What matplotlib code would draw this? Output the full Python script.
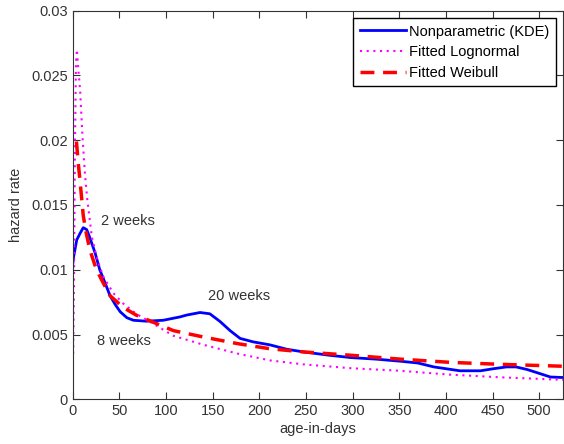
import matplotlib
matplotlib.use('Agg')
import matplotlib.pyplot as plt
import numpy as np

# Nonparametric (KDE) hazard
kde_days = [0, 1, 4.3, 7.8, 11.3, 15, 18.5, 24, 29, 34.6, 40, 45.7, 51, 58, 65, 79, 97,
            115, 122, 136.5, 147, 158, 168.7, 179.4, 193.6, 211.5, 229, 247, 275, 298,
            325, 351, 370, 387, 415, 437, 450, 465, 475, 487, 500, 512, 526]
kde_rate = [0.0104, 0.0110, 0.0123, 0.0128, 0.01325, 0.0131, 0.01245, 0.0113, 0.0100,
            0.0090, 0.0080, 0.0073, 0.00675, 0.0063, 0.0061, 0.00603, 0.0061,
            0.00636, 0.0065, 0.0067, 0.0066, 0.0060, 0.0053, 0.0047, 0.00443, 0.0042,
            0.00387, 0.00366, 0.0034, 0.00322, 0.0031, 0.00294, 0.0028, 0.0025, 0.0022,
            0.0022, 0.00235, 0.0025, 0.0025, 0.0023, 0.0020, 0.00172, 0.00168]

# Fitted lognormal hazard
logn_days = [0.5, 1.5, 2.5, 3.5, 4.5, 6, 8, 10.3, 13, 15.5, 20.5, 25.5, 32.6, 43.5, 54,
             68, 86, 108, 140.6, 176.5, 211.5, 247, 298, 351, 405, 458, 526]
logn_rate = [0.0035, 0.010, 0.020, 0.026, 0.027, 0.0255, 0.0238, 0.0205, 0.0175, 0.0155,
             0.01255, 0.0110, 0.0095, 0.0082, 0.0074, 0.0066, 0.00585, 0.0049, 0.0042,
             0.00353, 0.0030, 0.0027, 0.0024, 0.0022, 0.0019, 0.0017, 0.0015]

# Fitted Weibull hazard
weib_days = [4, 6, 7.8, 11.3, 14, 18.5, 25.5, 32.6, 40, 54, 68, 89.6, 108, 140.6, 176.5,
             211.5, 247, 298, 351, 405, 458, 526]
weib_rate = [0.0199, 0.0182, 0.0169, 0.0142, 0.0130, 0.0115, 0.0100, 0.0090, 0.0080,
             0.0071, 0.0065, 0.00585, 0.0053, 0.0048, 0.0043, 0.0039, 0.00366, 0.0034,
             0.0031, 0.00285, 0.0027, 0.00255]

xticks = np.arange(0, 501, 50)
yticks = [0, 0.005, 0.01, 0.015, 0.02, 0.025, 0.03]
ytick_labels = ['0', '0.005', '0.01', '0.015', '0.02', '0.025', '0.03']

# annotations: (text, day, rate)
notes = [('2 weeks', 30, 0.0138), ('20 weeks', 144.5, 0.0080), ('8 weeks', 25.7, 0.0045)]

plt.rcParams['font.family'] = ['Liberation Sans', 'DejaVu Sans']
fs = 10.5

fig = plt.figure(figsize=(5.64, 4.44), dpi=100)
ax = fig.add_axes([0.1289, 0.1007, 0.8702, 0.8752])

ax.plot(kde_days, kde_rate, color='blue', lw=2, label='Nonparametric (KDE)')
ax.plot(logn_days, logn_rate, color='magenta', lw=1.5, ls=(0, (1, 2.2)), label='Fitted Lognormal')
ax.plot(weib_days, weib_rate, color='red', lw=2.5, ls=(0, (4, 2.5)), label='Fitted Weibull')

for txt, xd, yd in notes:
    ax.text(xd, yd, txt, fontsize=fs, color='#333333', ha='left', va='center')

ax.set_xlim(0, 526)
ax.set_ylim(0, 0.03)
ax.set_xticks(xticks)
ax.set_yticks(yticks)
ax.set_yticklabels(ytick_labels)
ax.tick_params(direction='in', top=True, right=True, length=5, labelsize=fs,
               color='#333333', labelcolor='#333333')
for s in ax.spines.values():
    s.set_color('#333333')

ax.set_xlabel('age-in-days', fontsize=fs, color='#333333', labelpad=3)
ax.set_ylabel('hazard rate', fontsize=fs, color='#333333', labelpad=6)

leg = ax.legend(loc='upper right', fontsize=fs, fancybox=False, edgecolor='black',
                framealpha=1, handlelength=3.2, borderaxespad=0.5, labelspacing=0.45,
                handletextpad=0.2, borderpad=0.45)
leg.get_frame().set_linewidth(1)

fig.savefig('out.png', dpi=100)
